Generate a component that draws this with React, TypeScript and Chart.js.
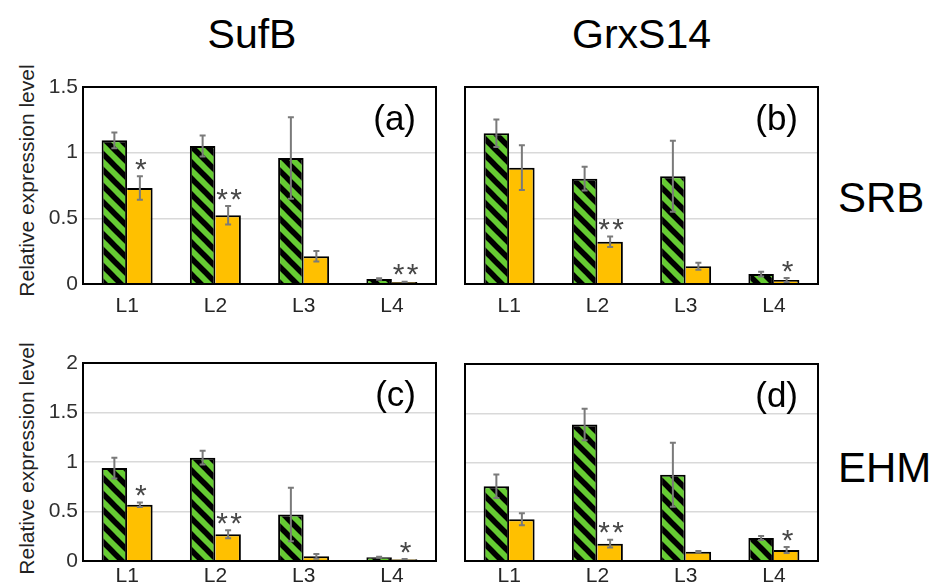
import React, { useEffect, useRef } from 'react';
import { Chart, registerables } from 'chart.js';

Chart.register(...registerables);

// ---------- data ----------
const categories = ['L1', 'L2', 'L3', 'L4'];
const yTicksSRB = [0, 0.5, 1, 1.5];
const yTicksEHM = [0, 0.5, 1, 1.5, 2];

// (a) SufB – SRB
const sufbSrbControl = [1.094, 1.051, 0.96, 0.038];
const sufbSrbControlErr = [0.06, 0.08, 0.31, 0.005];
const sufbSrbTreated = [0.731, 0.523, 0.211, 0.015];
const sufbSrbTreatedErr = [0.09, 0.07, 0.04, 0.003];
const sufbSrbSig = [1, 2, 0, 2];

// (b) GrxS14 – SRB
const grxSrbControl = [1.148, 0.802, 0.82, 0.076];
const grxSrbControlErr = [0.105, 0.09, 0.27, 0.018];
const grxSrbTreated = [0.886, 0.322, 0.135, 0.03];
const grxSrbTreatedErr = [0.17, 0.04, 0.027, 0.015];
const grxSrbSig = [0, 2, 0, 1];

// (c) SufB – EHM
const sufbEhmControl = [0.939, 1.044, 0.47, 0.037];
const sufbEhmControlErr = [0.105, 0.07, 0.27, 0.005];
const sufbEhmTreated = [0.568, 0.27, 0.047, 0.017];
const sufbEhmTreatedErr = [0.023, 0.04, 0.024, 0.003];
const sufbEhmSig = [1, 2, 0, 1];

// (d) GrxS14 – EHM
const grxEhmControl = [0.759, 1.386, 0.875, 0.234];
const grxEhmControlErr = [0.12, 0.16, 0.325, 0.02];
const grxEhmTreated = [0.424, 0.176, 0.095, 0.112];
const grxEhmTreatedErr = [0.06, 0.04, 0.006, 0.03];
const grxEhmSig = [0, 2, 0, 1];

const panelLetters = ['(a)', '(b)', '(c)', '(d)'];

// ---------- styles ----------
const FONT = "'Liberation Sans', Arial, sans-serif";
const GREEN = '#66cc33';
const ORANGE = '#ffc000';

function makePattern(): CanvasPattern | string {
  const s = 16;
  const pc = document.createElement('canvas');
  pc.width = s;
  pc.height = s;
  const p = pc.getContext('2d');
  if (!p) return GREEN;
  p.fillStyle = GREEN;
  p.fillRect(0, 0, s, s);
  p.strokeStyle = '#000';
  p.lineWidth = 5.5;
  for (const o of [-s, 0, s]) {
    p.beginPath();
    p.moveTo(o - s, -s);
    p.lineTo(o + 2 * s, 2 * s);
    p.stroke();
  }
  return p.createPattern(pc, 'repeat') || GREEN;
}

type PanelProps = {
  control: number[];
  controlErr: number[];
  treated: number[];
  treatedErr: number[];
  sig: number[];
  yTicks: number[];
  showY: boolean;
  letter: string;
  left: number;
  top: number;
  width: number;
  height: number;
  yWidth: number;
  xPad: number;
};

function Panel(props: PanelProps) {
  const ref = useRef<HTMLCanvasElement>(null);
  useEffect(() => {
    const canvas = ref.current;
    if (!canvas) return;
    const { control, controlErr, treated, treatedErr, sig, yTicks, showY, letter, yWidth, xPad } = props;
    const yMax = yTicks[yTicks.length - 1];
    const errs = [controlErr, treatedErr];

    const decorPlugin = {
      id: 'decor',
      afterDatasetsDraw(chart: any) {
        const ctx = chart.ctx;
        const ys = chart.scales.y;
        ctx.save();
        chart.data.datasets.forEach((ds: any, di: number) => {
          const meta = chart.getDatasetMeta(di);
          meta.data.forEach((bar: any, i: number) => {
            const v = ds.data[i];
            const e = errs[di][i];
            const x = bar.x;
            const yT = ys.getPixelForValue(v + e);
            const yB = ys.getPixelForValue(Math.max(0, v - e));
            ctx.strokeStyle = '#7a7a7a';
            ctx.lineWidth = 2;
            ctx.beginPath();
            ctx.moveTo(x, yT);
            ctx.lineTo(x, yB);
            ctx.moveTo(x - 3, yT);
            ctx.lineTo(x + 3, yT);
            ctx.moveTo(x - 3, yB);
            ctx.lineTo(x + 3, yB);
            ctx.stroke();
            if (di === 1 && sig[i] > 0) {
              ctx.font = `30px ${FONT}`;
              ctx.fillStyle = '#474747';
              ctx.textAlign = 'center';
              ctx.textBaseline = 'alphabetic';
              const m = ctx.measureText('*');
              const cy = Math.min(yT, bar.y) - 12;
              const base = cy - (m.actualBoundingBoxDescent - m.actualBoundingBoxAscent) / 2;
              const n = sig[i];
              const gap = 14;
              for (let k = 0; k < n; k++) {
                const sx = x + 1 + (k - (n - 1) / 2) * gap;
                ctx.fillText('*', sx, base);
              }
            }
          });
        });
        ctx.restore();
      },
      afterDraw(chart: any) {
        const ctx = chart.ctx;
        const a = chart.chartArea;
        ctx.save();
        ctx.strokeStyle = '#000';
        ctx.lineWidth = 2;
        ctx.strokeRect(a.left, a.top, a.right - a.left, a.bottom - a.top);
        ctx.font = `35px ${FONT}`;
        ctx.fillStyle = '#000';
        ctx.textAlign = 'right';
        ctx.textBaseline = 'alphabetic';
        ctx.fillText(letter, a.right - 20, a.top + 43);
        ctx.restore();
      },
    };

    const chart = new Chart(canvas, {
      type: 'bar',
      data: {
        labels: categories,
        datasets: [
          {
            data: control,
            backgroundColor: makePattern() as any,
            borderColor: '#000',
            borderWidth: { top: 2, left: 2, right: 2, bottom: 0 },
          },
          {
            data: treated,
            backgroundColor: ORANGE,
            borderColor: '#000',
            borderWidth: { top: 2, left: 0, right: 2, bottom: 0 },
          },
        ],
      },
      options: {
        animation: false,
        responsive: false,
        maintainAspectRatio: false,
        layout: { padding: { top: 20, right: 20, bottom: 5, left: 0 } },
        datasets: { bar: { categoryPercentage: 0.578, barPercentage: 1 } },
        plugins: { legend: { display: false }, tooltip: { enabled: false } },
        scales: {
          x: {
            grid: { display: false },
            border: { display: false },
            ticks: { padding: xPad, color: '#262626', font: { family: FONT, size: 21 } },
            afterFit: (s: any) => {
              s.height = 45;
            },
          },
          y: {
            min: 0,
            max: yMax,
            afterBuildTicks: (s: any) => {
              s.ticks = yTicks.map((v) => ({ value: v }));
            },
            ticks: {
              display: showY,
              padding: 5,
              color: '#303030',
              font: { family: FONT, size: 21 },
              callback: (v: any) => String(v),
            },
            grid: {
              drawTicks: false,
              lineWidth: 1.5,
              color: (c: any) =>
                c.tick && (c.tick.value === 0 || c.tick.value === yMax) ? 'rgba(0,0,0,0)' : '#d9d9d9',
            },
            border: { display: false },
            afterFit: (s: any) => {
              s.width = yWidth;
            },
          },
        },
      },
      plugins: [decorPlugin],
    } as any);
    return () => chart.destroy();
  }, []);
  return (
    <canvas
      ref={ref}
      width={props.width}
      height={props.height}
      style={{ position: 'absolute', left: props.left, top: props.top, width: props.width, height: props.height }}
    />
  );
}

function Text(p: { text: string; left: number; top: number; size: number; center?: boolean }) {
  return (
    <div
      style={{
        position: 'absolute',
        left: p.left,
        top: p.top,
        fontFamily: FONT,
        fontSize: p.size,
        lineHeight: `${p.size}px`,
        color: '#000',
        whiteSpace: 'nowrap',
        transform: p.center ? 'translateX(-50%)' : undefined,
      }}
    >
      {p.text}
    </div>
  );
}

function YLabel(p: { cx: number; cy: number }) {
  const w = 300;
  const h = 21;
  return (
    <div
      style={{
        position: 'absolute',
        left: p.cx - w / 2,
        top: p.cy - h / 2,
        width: w,
        height: h,
        fontFamily: FONT,
        fontSize: 21,
        lineHeight: `${h}px`,
        color: '#222',
        textAlign: 'center',
        whiteSpace: 'nowrap',
        transform: 'rotate(-90deg)',
        transformOrigin: 'center center',
      }}
    >
      Relative expression level
    </div>
  );
}

export default function App() {
  return (
    <div style={{ position: 'fixed', left: 0, top: 0, width: 937, height: 586, background: '#fff', overflow: 'hidden' }}>
      <Text text="SufB" left={252} top={14.3} size={41} center />
      <Text text="GrxS14" left={641.5} top={14.3} size={41} center />
      <Text text="SRB" left={838} top={177.4} size={42} />
      <Text text="EHM" left={838} top={447.4} size={42} />
      <YLabel cx={25.7} cy={180} />
      <YLabel cx={25.7} cy={458} />
      <Panel
        control={sufbSrbControl}
        controlErr={sufbSrbControlErr}
        treated={sufbSrbTreated}
        treatedErr={sufbSrbTreatedErr}
        sig={sufbSrbSig}
        yTicks={yTicksSRB}
        showY={true}
        letter={panelLetters[0]}
        left={0}
        top={67}
        width={456}
        height={267}
        yWidth={83}
        xPad={2}
      />
      <Panel
        control={grxSrbControl}
        controlErr={grxSrbControlErr}
        treated={grxSrbTreated}
        treatedErr={grxSrbTreatedErr}
        sig={grxSrbSig}
        yTicks={yTicksSRB}
        showY={false}
        letter={panelLetters[1]}
        left={445}
        top={67}
        width={393}
        height={267}
        yWidth={20}
        xPad={2}
      />
      <Panel
        control={sufbEhmControl}
        controlErr={sufbEhmControlErr}
        treated={sufbEhmTreated}
        treatedErr={sufbEhmTreatedErr}
        sig={sufbEhmSig}
        yTicks={yTicksEHM}
        showY={true}
        letter={panelLetters[2]}
        left={0}
        top={343}
        width={456}
        height={268}
        yWidth={83}
        xPad={-5}
      />
      <Panel
        control={grxEhmControl}
        controlErr={grxEhmControlErr}
        treated={grxEhmTreated}
        treatedErr={grxEhmTreatedErr}
        sig={grxEhmSig}
        yTicks={yTicksEHM}
        showY={false}
        letter={panelLetters[3]}
        left={445}
        top={344}
        width={393}
        height={267}
        yWidth={20}
        xPad={-5}
      />
    </div>
  );
}
